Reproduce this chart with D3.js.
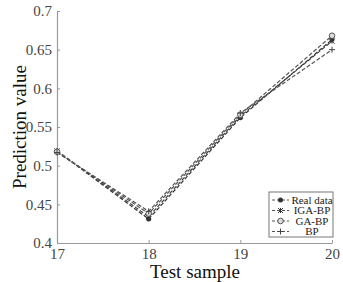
<!DOCTYPE html>
<html>
<head>
<meta charset="utf-8">
<script src="https://cdn.jsdelivr.net/npm/d3@7"></script>
<style>
  body { margin: 0; background: #fff; }
  svg { display: block; font-family: "Liberation Serif", "Times New Roman", serif; }
</style>
</head>
<body>
<div id="chart"></div>
<script>
const samples = [17, 18, 19, 20];
const realData = [0.519, 0.431, 0.562, 0.663];
const igaBP = [0.519, 0.434, 0.564, 0.661];
const gaBP = [0.518, 0.438, 0.566, 0.668];
const bp = [0.517, 0.441, 0.568, 0.650];
const yTicks = [0.4, 0.45, 0.5, 0.55, 0.6, 0.65, 0.7];
const seriesNames = ["Real data", "IGA-BP", "GA-BP", "BP"];

const w = 343, h = 282;
const svg = d3.select("#chart").append("svg").attr("width", w).attr("height", h);

const x = d3.scaleLinear().domain([17, 20]).range([57, 332]);
const y = d3.scaleLinear().domain([0.4, 0.7]).range([243, 11]);

// axes
const axisColor = "#999";
const gx = svg.append("g").attr("transform", "translate(0,243)")
  .call(d3.axisBottom(x).tickValues(samples).tickFormat(d3.format("d")).tickSize(-3).tickPadding(5).tickSizeOuter(0));
const gy = svg.append("g").attr("transform", "translate(57,0)")
  .call(d3.axisLeft(y).tickValues(yTicks).tickFormat(d => d === 0.4 || d === 0.5 || d === 0.6 || d === 0.7 ? d3.format(".1f")(d) : d3.format(".2f")(d)).tickSize(-3).tickSizeOuter(0));
[gx, gy].forEach(g => {
  g.select(".domain").attr("stroke", axisColor).attr("stroke-width", 1.2);
  g.selectAll(".tick line").attr("stroke", axisColor);
  g.selectAll(".tick text").attr("fill", "#444").style("font-size", "15px").style("font-family", "Liberation Serif, serif");
});
gx.selectAll(".tick text").attr("dy", "0.72em");
gy.selectAll(".tick text").attr("dx", "-2px");

svg.append("text").attr("x", 195).attr("y", 278).attr("text-anchor", "middle")
  .style("font-size", "19px").attr("fill", "#111").text("Test sample");
svg.append("text").attr("transform", "translate(26,127) rotate(-90)").attr("text-anchor", "middle")
  .style("font-size", "19px").attr("fill", "#111").text("Prediction value");

const series = [realData, igaBP, gaBP, bp];
const line = d3.line().x((d, i) => x(samples[i])).y(d => y(d));
const colors = ["#333", "#444", "#555", "#555"];

series.forEach((s, k) => {
  svg.append("path").datum(s).attr("fill", "none").attr("stroke", colors[k])
    .attr("stroke-width", 1.2).attr("stroke-dasharray", "4,2").attr("d", line);
});

function marker(g, k, cx, cy) {
  if (k === 0) {
    g.append("circle").attr("cx", cx).attr("cy", cy).attr("r", 2.5).attr("fill", "#333");
  } else if (k === 1) {
    const s = 2.5;
    g.append("path").attr("d", `M${cx - s},${cy - s}L${cx + s},${cy + s}M${cx - s},${cy + s}L${cx + s},${cy - s}M${cx},${cy - s}L${cx},${cy + s}`)
      .attr("stroke", "#333").attr("stroke-width", 1);
  } else if (k === 2) {
    g.append("circle").attr("cx", cx).attr("cy", cy).attr("r", 2.8).attr("fill", "#ddd").attr("stroke", "#555").attr("stroke-width", 1);
  } else {
    const s = 3;
    g.append("path").attr("d", `M${cx - s},${cy}L${cx + s},${cy}M${cx},${cy - s}L${cx},${cy + s}`)
      .attr("stroke", "#444").attr("stroke-width", 1);
  }
}

const mk = svg.append("g");
series.forEach((s, k) => {
  s.forEach((v, i) => marker(mk, k, x(samples[i]), y(v)));
});

// legend
const lg = svg.append("g").attr("transform", "translate(269,192)");
lg.append("rect").attr("width", 64).attr("height", 45).attr("fill", "#fff").attr("stroke", "#777").attr("stroke-width", 1);
seriesNames.forEach((name, k) => {
  const yy = 8 + k * 10.5;
  lg.append("line").attr("x1", 3).attr("x2", 20).attr("y1", yy).attr("y2", yy)
    .attr("stroke", "#555").attr("stroke-dasharray", "3,2");
  marker(lg, k, 11.5, yy);
  lg.append("text").attr("x", 43).attr("y", yy + 3.5).attr("text-anchor", "middle")
    .style("font-size", "11px").attr("fill", "#222").text(name);
});
</script>
</body>
</html>
